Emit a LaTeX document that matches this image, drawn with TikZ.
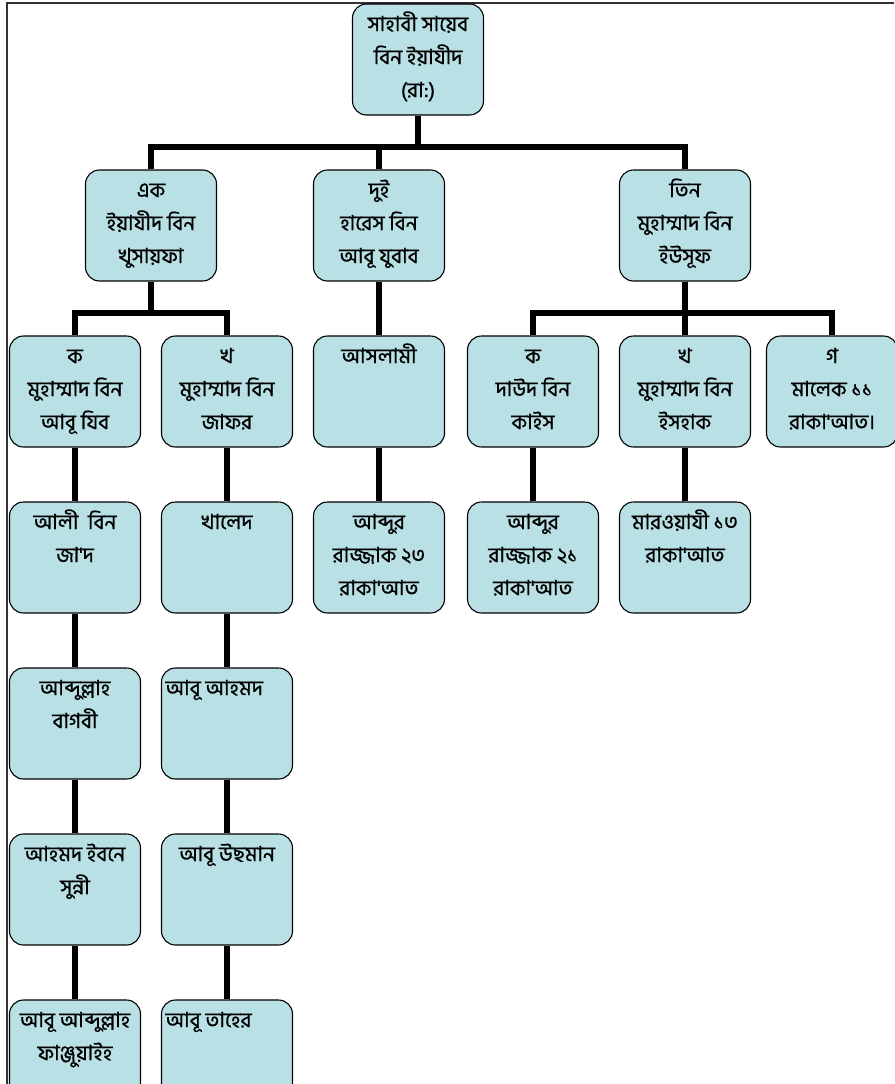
\documentclass[tikz,border=0pt]{standalone}
\usepackage{fontspec}
\newfontfamily\bn[Script=Bengali,FakeBold=0.7]{Hind Siliguri}

\definecolor{boxblue}{RGB}{185,224,228}
\newcommand{\cell}[1]{\parbox[c][103pt][t]{123pt}{\centering\strut #1}}
\newcommand{\lcell}[1]{\parbox[c][103pt][t]{123pt}{\raggedright\strut #1}}

\begin{document}
\begin{tikzpicture}[x=1pt,y=1pt,
  person/.style={draw,line width=1.1pt,fill=boxblue,rounded corners=14pt,inner sep=4pt,
    font=\bn\fontsize{21}{33}\selectfont},
  level distance=166pt,
  level 1/.style={sibling distance=267pt},
  level 2/.style={sibling distance=152pt},
  edge from parent/.style={draw,line width=6pt},
  edge from parent path={(\tikzparentnode.south) -- ++(0,-31) -| (\tikzchildnode.north)}]
\useasboundingbox (0,0) rectangle (894,-1084);
% page frame
\draw[line width=1.6pt,black!80] (7,-1084) -- (7,-3) -- (894,-3);
\node [person] (r) at (418,-59.5) {\cell{সাহাবী সায়েব\\বিন ইয়াযীদ\\(রা:)}}
  child {
  node [person] (a) {\cell{এক\\ইয়াযীদ বিন\\খুসায়ফা}}
  child {
  node [person] (a1) {\cell{ক\\মুহাম্মাদ বিন\\আবূ যিব}}
    child {
    node [person] (a11) {\cell{আলী~~বিন\\জা'দ}}
      child {
      node [person] (a12) {\cell{আব্দুল্লাহ\\বাগবী}}
        child {
        node [person] (a13) {\cell{আহমদ ইবনে\\সুন্নী}}
          child {
          node [person] (a14) {\cell{আবূ আব্দুল্লাহ\\ফাঞ্জুয়াইহ}}
          }
        }
      }
    }
  }
  child {
  node [person] (a2) {\cell{খ\\মুহাম্মাদ বিন\\জাফর}}
    child {
    node [person] (a21) {\cell{খালেদ}}
      child {
      node [person] (a22) {\lcell{আবূ আহমদ}}
        child {
        node [person] (a23) {\cell{আবূ উছমান}}
          child {
          node [person] (a24) {\lcell{আবূ তাহের}}
          }
        }
      }
    }
  }
  }
  child[xshift=-39pt] {
  node [person] (b) {\cell{দুই\\হারেস বিন\\আবূ যুবাব}}
  child {
  node [person] (b1) {\cell{আসলামী}}
    child {
    node [person] (b2) {\cell{আব্দুর\\রাজ্জাক ২৩\\রাকা'আত}}
    }
  }
  }
  child {
  node [person] (c) {\cell{তিন\\মুহাম্মাদ বিন\\ইউসূফ}}
  child {
  node [person] (c1) {\cell{ক\\দাউদ বিন\\কাইস}}
    child {
    node [person] (c11) {\cell{আব্দুর\\রাজ্জাক ২১\\রাকা'আত}}
    }
  }
  child {
  node [person] (c2) {\cell{খ\\মুহাম্মাদ বিন\\ইসহাক}}
    child {
    node [person] (c21) {\cell{মারওয়াযী ১৩\\রাকা'আত}}
    }
  }
  child[xshift=-5pt] {
  node [person] (c3) {\cell{গ\\মালেক ১১\\রাকা'আত।}}
  }
  };
\end{tikzpicture}
\end{document}
